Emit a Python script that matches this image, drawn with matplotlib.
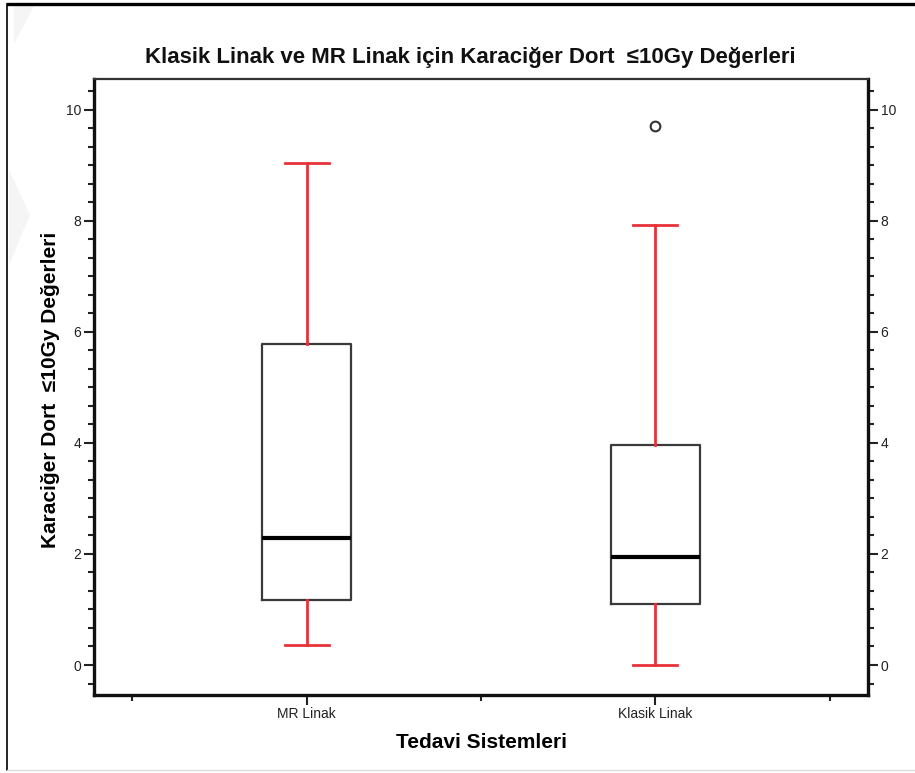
import matplotlib.pyplot as plt
from matplotlib.lines import Line2D
from matplotlib.patches import Polygon
from matplotlib.ticker import MultipleLocator

plt.rcParams['font.family'] = ['Liberation Sans', 'DejaVu Sans']

# box plot summary values per treatment system
groups = ["MR Linak", "Klasik Linak"]
whisker_low = [0.36, 0.0]
q1 = [1.17, 1.10]
median = [2.29, 1.95]
q3 = [5.78, 3.96]
whisker_high = [9.04, 7.93]
outliers = [[], [9.71]]

red = "#e8323a"

fig = plt.figure(figsize=(9.15, 7.73), dpi=100)
W, H = 915, 773

# page frame and faint watermark shapes
fig.add_artist(Polygon([(14 / W, 1 - 6 / H), (34 / W, 1 - 6 / H), (14 / W, 1 - 44 / H)],
                       closed=True, facecolor="#f5f5f5", edgecolor="none",
                       transform=fig.transFigure))
fig.add_artist(Polygon([(9 / W, 1 - 170 / H), (30 / W, 1 - 215 / H), (9 / W, 1 - 265 / H)],
                       closed=True, facecolor="#f5f5f5", edgecolor="none",
                       transform=fig.transFigure))
fig.add_artist(Line2D([8 / W, 1], [1 - 4 / H, 1 - 4 / H], color="black", lw=2.4,
                      transform=fig.transFigure))
fig.add_artist(Line2D([7 / W, 7 / W], [1 - 4 / H, 1 - 770 / H], color="black", lw=1.2,
                      transform=fig.transFigure))
fig.add_artist(Line2D([7 / W, 1], [1 - 770 / H, 1 - 770 / H], color="#dddddd", lw=1,
                      transform=fig.transFigure))

ax = fig.add_axes([94 / W, 1 - 695 / H, (868 - 94) / W, (695 - 79) / H])

stats = []
for i, name in enumerate(groups):
    stats.append({
        "label": name,
        "whislo": whisker_low[i],
        "q1": q1[i],
        "med": median[i],
        "q3": q3[i],
        "whishi": whisker_high[i],
        "fliers": outliers[i],
    })

ax.bxp(stats, positions=[1, 2], widths=0.255, capwidths=0.126,
       boxprops=dict(color="#3a3a3a", lw=1.6),
       medianprops=dict(color="black", lw=3),
       whiskerprops=dict(color=red, lw=2),
       capprops=dict(color=red, lw=2),
       flierprops=dict(marker="o", markersize=7, markerfacecolor="white",
                       markeredgecolor="#333333", markeredgewidth=1.5))

ax.set_xlim(0.39, 2.61)
ax.set_ylim(-0.54, 10.55)

ax.set_xticks([1, 2])
ax.set_xticklabels(groups)
ax.xaxis.set_minor_locator(MultipleLocator(0.5))
ax.yaxis.set_major_locator(MultipleLocator(2))
ax.yaxis.set_minor_locator(MultipleLocator(1 / 3))

ax.tick_params(axis="both", which="major", length=7, width=1.5, color="#222222",
               labelsize=10, labelcolor="#222222", pad=2)
ax.tick_params(axis="both", which="minor", length=4, width=1.5, color="#222222")
ax.tick_params(axis="y", which="both", right=True, labelright=True)

for side in ["left", "right", "bottom"]:
    ax.spines[side].set_linewidth(2.4)
    ax.spines[side].set_color("#111111")
ax.spines["top"].set_linewidth(1.6)
ax.spines["top"].set_color("#333333")

fig.text(470 / W, 1 - 57 / H, "Klasik Linak ve MR Linak için Karaciğer Dort  ≤10Gy Değerleri",
         ha="center", va="center", fontsize=16, fontweight="bold", color="#111111")
ax.set_xlabel("Tedavi Sistemleri", fontsize=15, fontweight="bold", labelpad=8)
fig.text(51 / W, 1 - 390 / H, "Karaciğer Dort  ≤10Gy Değerleri", rotation=90,
         ha="center", va="center", fontsize=15, fontweight="bold")

fig.savefig("out.png", dpi=100)
